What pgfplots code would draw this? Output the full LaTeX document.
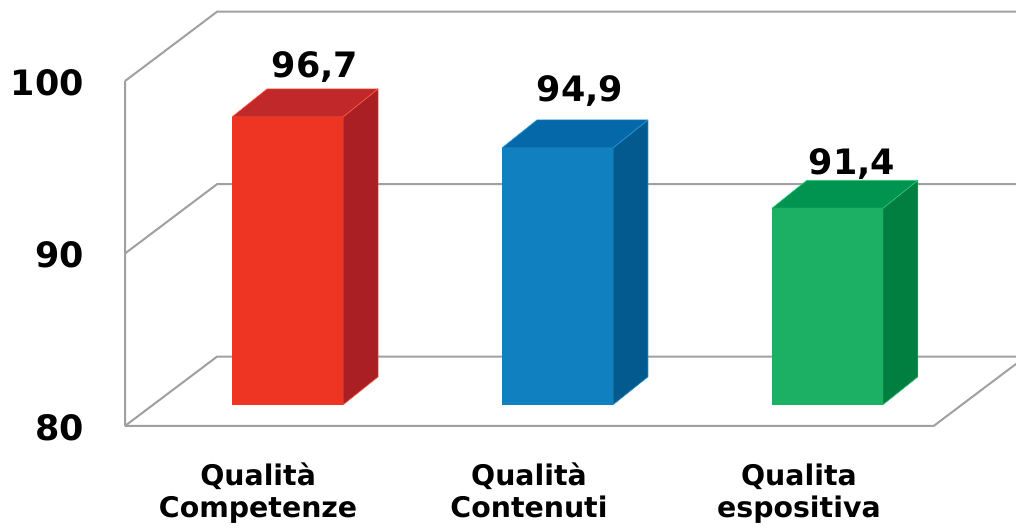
\documentclass[border=0pt]{standalone}
\usepackage{fontspec}
\setmainfont{DejaVu Sans}
\usepackage{pgfplots}
\pgfplotsset{compat=1.18}
\definecolor{redF}{HTML}{EE3524}
\definecolor{redT}{HTML}{C0282A}
\definecolor{redS}{HTML}{A91F24}
\definecolor{redE}{HTML}{FF5A3C}
\definecolor{bluF}{HTML}{1180C0}
\definecolor{bluT}{HTML}{0568A8}
\definecolor{bluS}{HTML}{025A8E}
\definecolor{bluE}{HTML}{2A95D5}
\definecolor{grnF}{HTML}{1BB064}
\definecolor{grnT}{HTML}{009450}
\definecolor{grnS}{HTML}{007F40}
\definecolor{grnE}{HTML}{30C878}
\definecolor{gridc}{HTML}{A0A0A0}
% #1 left x of front face, #2 value, #3 front, #4 top, #5 side, #6 edge colour
\newcommand{\threedbar}[6]{%
  \pgfmathsetmacro\xa{#1}%
  \pgfmathsetmacro\xb{#1+111}%
  \pgfmathsetmacro\xc{#1+35}%
  \pgfmathsetmacro\xd{#1+146}%
  \pgfmathsetmacro\yt{#2+1.623}%
  \addplot[fill=#5, draw=#6, line width=0.3pt, line join=round] coordinates {(\xb,80) (\xd,81.623) (\xd,\yt) (\xb,#2)} -- cycle;
  \addplot[fill=#4, draw=#6, line width=0.3pt, line join=round] coordinates {(\xa,#2) (\xb,#2) (\xd,\yt) (\xc,\yt)} -- cycle;
  \addplot[fill=#3, draw=none] coordinates {(\xa,80) (\xb,80) (\xb,#2) (\xa,#2)} -- cycle;
}
\begin{document}
\begin{tikzpicture}
\begin{axis}[
  scale only axis,
  width=508pt, height=264.5pt,
  xmin=0, xmax=1016,
  ymin=72.812, ymax=103.478,
  axis line style={draw=none},
  major tick length=0pt,
  xtick=\empty,
  ytick={78.783,88.783,98.783},
  yticklabels={80,90,100},
  yticklabel style={anchor=east, inner sep=0pt, xshift=42pt, yshift=-0.8pt,
    font=\bfseries\fontsize{17.5}{20}\selectfont},
  /pgf/number format/assume math mode=true,
  clip=true,
]
% frame: left wall and floor
\addplot[gridc, line width=1pt, line join=round] coordinates {(125,98.783) (125,78.783) (934,78.783) (1026,82.8)};
\addplot[gridc, line width=1pt] coordinates {(125,78.783) (217,82.8) (1030,82.8)};
\addplot[gridc, line width=1pt] coordinates {(125,88.783) (217,92.8) (1030,92.8)};
\addplot[gridc, line width=1pt] coordinates {(125,98.783) (217,102.8) (1030,102.8)};
% bars
\threedbar{232}{96.7}{redF}{redT}{redS}{redE}
\threedbar{502}{94.9}{bluF}{bluT}{bluS}{bluE}
\threedbar{772}{91.4}{grnF}{grnT}{grnS}{grnE}
% value labels
\node[anchor=base, inner sep=0pt, font=\bfseries\fontsize{17.5}{20}\selectfont] at (axis cs:315,98.96) {96,7};
\node[anchor=base, inner sep=0pt, font=\bfseries\fontsize{17.5}{20}\selectfont] at (axis cs:580,97.57) {94,9};
\node[anchor=base, inner sep=0pt, font=\bfseries\fontsize{17.5}{20}\selectfont] at (axis cs:852,93.33) {91,4};
% category labels
\node[anchor=base, inner sep=0pt, align=center, font=\bfseries\fontsize{14.2}{16}\selectfont] at (axis cs:258,73.45) {Qualità\\Competenze};
\node[anchor=base, inner sep=0pt, align=center, font=\bfseries\fontsize{14.2}{16}\selectfont] at (axis cs:529,73.45) {Qualità\\Contenuti};
\node[anchor=base, inner sep=0pt, align=center, font=\bfseries\fontsize{14.2}{16}\selectfont] at (axis cs:799,73.45) {Qualita\\espositiva};
\end{axis}
\end{tikzpicture}
\end{document}
